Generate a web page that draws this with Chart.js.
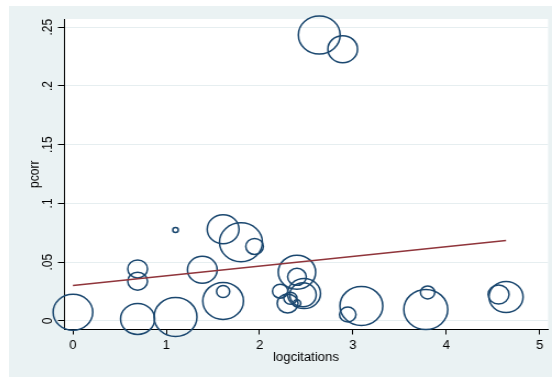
<!DOCTYPE html>
<html>
<head>
<meta charset="utf-8">
<script src="https://cdn.jsdelivr.net/npm/chart.js@4.4.1/dist/chart.umd.min.js"></script>
<style>
  body { margin: 0; background: #fff; }
  #wrap { position: absolute; left: 9px; top: 6px; width: 543px; height: 371px; background: #eaf2f3; }
  canvas { display: block; }
</style>
</head>
<body>
<div id="wrap">
  <!-- drawn at 494 wide and shown at 543: the reference is stretched sideways -->
  <canvas id="chart" width="494" height="371" style="width:543px;height:371px"></canvas>
</div>
<script>
// bubbles: log citations, partial correlation, marker size
const logCitations = [0, 0.693, 0.693, 0.693, 1.099, 1.099, 1.386, 1.609, 1.609, 1.609,
  1.80, 1.946, 2.22, 2.30, 2.40, 2.40, 2.40, 2.33, 2.476, 2.465,
  2.639, 2.89, 2.944, 3.09, 3.78, 3.80, 4.56, 4.64];
const pcorr = [0.0074, 0.0443, 0.0338, 0.0017, 0.0034, 0.0773, 0.0436, 0.0781, 0.017, 0.025,
  0.067, 0.0634, 0.0253, 0.0149, 0.0415, 0.0375, 0.0151, 0.0193, 0.0233, 0.0223,
  0.2434, 0.2313, 0.0055, 0.0128, 0.0097, 0.0242, 0.0225, 0.0204];
const sizes = [18, 9, 9, 15.5, 19.5, 2.5, 13.5, 14.5, 18.5, 6,
  19.5, 8, 7, 9.5, 17, 8.5, 3.5, 6, 15, 12,
  19, 13.5, 7.5, 19.5, 20, 6.5, 9.5, 15.5];

// linear fit line ends
const fitX = [0, 4.64];
const fitY = [0.0302, 0.0685];

const xTicks = [0, 1, 2, 3, 4, 5];
const yTicks = [0, 0.05, 0.1, 0.15, 0.2, 0.25];
const yTickLabels = ['0', '.05', '.1', '.15', '.2', '.25'];

const bubbles = logCitations.map((x, i) => ({ x: x, y: pcorr[i], r: sizes[i] }));
const fitLine = fitX.map((x, i) => ({ x: x, y: fitY[i] }));

// white plot region on the bluish graph region
const plotBg = {
  id: 'plotBg',
  beforeDraw(chart) {
    const a = chart.chartArea;
    chart.ctx.save();
    chart.ctx.fillStyle = '#ffffff';
    chart.ctx.fillRect(a.left, a.top, a.right - a.left, a.bottom - a.top);
    chart.ctx.restore();
  }
};

const font = { family: '"Liberation Sans", Arial, sans-serif', size: 12 };

new Chart(document.getElementById('chart'), {
  type: 'bubble',
  data: {
    datasets: [
      {
        type: 'line',
        data: fitLine,
        borderColor: '#90353b',
        borderWidth: 1.5,
        pointRadius: 0,
        fill: false,
        clip: false
      },
      {
        data: bubbles,
        backgroundColor: 'rgba(0,0,0,0)',
        borderColor: '#1a476f',
        borderWidth: 1.5,
        clip: false
      }
    ]
  },
  options: {
    responsive: false,
    animation: false,
    layout: { autoPadding: false, padding: { top: 13, right: 3.6, left: 0, bottom: 0 } },
    plugins: { legend: { display: false }, tooltip: { enabled: false } },
    scales: {
      x: {
        type: 'linear',
        min: -0.096,
        max: 5.09,
        offset: false,
        afterBuildTicks: (s) => { s.ticks = xTicks.map(v => ({ value: v })); },
        afterFit: (s) => { s.height = 47.5; },
        ticks: { font: font, color: '#000', padding: 4, maxRotation: 0, callback: (v) => String(v) },
        grid: { drawOnChartArea: false, tickLength: 5, tickColor: '#000' },
        border: { color: '#000', width: 1 },
        title: { display: true, text: 'logcitations', font: font, color: '#000', padding: { top: 0, bottom: 12.3 } }
      },
      y: {
        type: 'linear',
        min: -0.0073,
        max: 0.257,
        afterBuildTicks: (s) => { s.ticks = yTicks.map(v => ({ value: v })); },
        afterFit: (s) => { s.width = 50; },
        ticks: {
          font: font, color: '#000', padding: 0, minRotation: 90, maxRotation: 90, crossAlign: 'center',
          callback: (v) => { const i = yTicks.findIndex(t => Math.abs(t - v) < 1e-9); return i >= 0 ? yTickLabels[i] : ''; }
        },
        grid: { color: '#e6eef0', lineWidth: 1, tickLength: 5.5, tickColor: '#000' },
        border: { color: '#000', width: 1 },
        title: { display: true, text: 'pcorr', font: font, color: '#000', padding: { top: 16.5, bottom: 0 } }
      }
    }
  },
  plugins: [plotBg]
});
</script>
</body>
</html>
